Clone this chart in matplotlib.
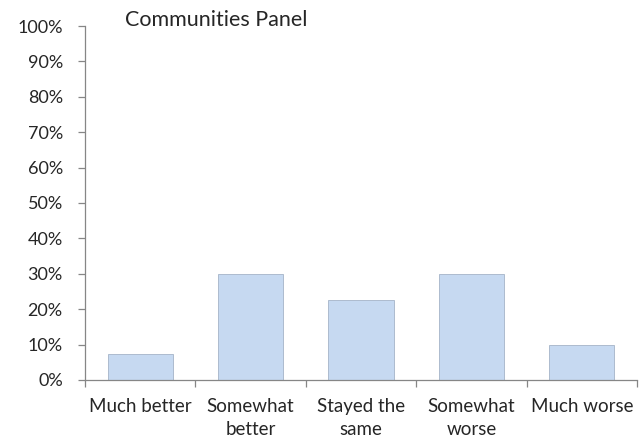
import numpy as np
import matplotlib
matplotlib.use('Agg')
from matplotlib import pyplot as plt
import matplotlib.ticker as ticker

categories = ['Much better', 'Somewhat\nbetter', 'Stayed the\nsame', 'Somewhat\nworse', 'Much worse']
values = [7.3, 30.0, 22.6, 30.0, 10.0]
title = 'Communities Panel'

plt.rcParams['font.family'] = ['Lato', 'DejaVu Sans']

fig = plt.figure(figsize=(6.42, 4.46), dpi=100)
ax = fig.add_axes([0.1324, 0.148, 0.8598, 0.7937])

x = np.arange(len(categories))
ax.bar(x, values, width=0.59, color='#C6D9F1', edgecolor='#A5B4C8', linewidth=0.6, zorder=2)

ax.set_xlim(-0.5, len(categories) - 0.5)
ax.set_ylim(0, 100)

ax.yaxis.set_major_locator(ticker.MultipleLocator(10))
ax.yaxis.set_major_formatter(ticker.FuncFormatter(lambda v, p: '%d%%' % v))

# category labels centred, tick marks between categories
ax.set_xticks(x)
ax.set_xticklabels(categories, fontsize=13.5, color='#262626', linespacing=1.4)
ax.set_xticks(np.arange(len(categories) + 1) - 0.5, minor=True)
ax.tick_params(axis='x', which='major', length=0, pad=13)
ax.tick_params(axis='x', which='minor', length=5, color='#868686', width=0.9)
ax.tick_params(axis='y', length=5, color='#868686', width=0.9, labelsize=13,
               labelcolor='#262626', pad=11)

for s in ['top', 'right']:
    ax.spines[s].set_visible(False)
for s in ['left', 'bottom']:
    ax.spines[s].set_color('#868686')
    ax.spines[s].set_linewidth(0.9)

fig.text(0.195, 0.955, title, fontsize=15.5, color='#262626', ha='left', va='center')

plt.savefig('out.png', dpi=100)
